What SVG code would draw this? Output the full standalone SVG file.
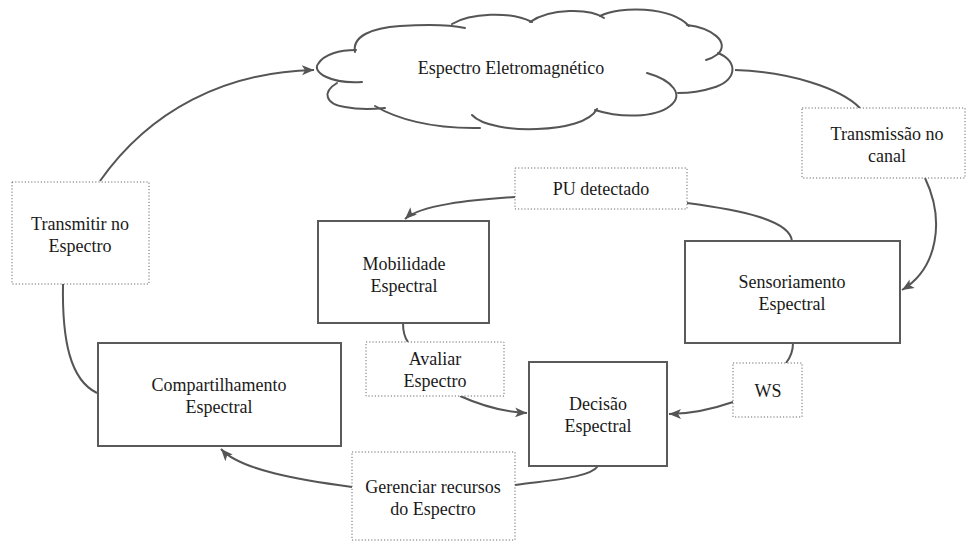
<svg xmlns="http://www.w3.org/2000/svg" width="967" height="542" viewBox="0 0 967 542">
<style>
.box{fill:#fff;stroke:#5a5a5a;stroke-width:2}
.lbl{fill:#fff;stroke:#6a6a6a;stroke-width:1;stroke-dasharray:1.2 2}
.c{fill:none;stroke:#555;stroke-width:2}
.cl{fill:none;stroke:#555;stroke-width:2;stroke-linecap:round}
.t{font-family:'Liberation Serif','Tinos','DejaVu Serif',serif;font-size:18px;fill:#1a1a1a;text-anchor:middle}
</style>
<defs>
<marker id="ah" markerUnits="userSpaceOnUse" markerWidth="14" markerHeight="12" refX="12" refY="5" orient="auto">
<path d="M0,0 L12,5 L0,10 L3,5 z" fill="#555"/>
</marker>
</defs>
<g id="cloud">
<path class="cl" d="M362,82 C330,84 312,72 318,64 C324,54 340,50 356,50"/>
<path class="cl" d="M355,52 C352,36 372,28 400,26 C430,24 452,25 465,28"/>
<path class="cl" d="M452,24 C470,13 510,11 532,22"/>
<path class="cl" d="M530,22 C550,8 590,8 604,18"/>
<path class="cl" d="M600,16 C620,6 670,6 689,26"/>
<path class="cl" d="M687,25 C712,28 730,42 718,54 C714,57 710,59 706,60"/>
<path class="cl" d="M718,53 C740,62 736,82 712,88 C700,92 690,93 678,93"/>
<path class="cl" d="M647,73 C672,80 685,95 670,106 C655,118 620,118 595,110"/>
<path class="cl" d="M472,115 C482,126 512,130 537,129 C565,128 590,122 597,109"/>
<path class="cl" d="M375,106 C395,118 430,129 480,128"/>
<path class="cl" d="M337,83 C322,92 325,104 345,107 C360,110 375,109 385,108"/>
<text class="t" x="511" y="74">Espectro Eletromagnético</text>
</g>
<g id="connectors">
<path class="c" d="M100,181 C150,110 225,72 314,70" marker-end="url(#ah)"/>
<path class="c" d="M735,70 C790,72 840,88 860,108"/>
<path class="c" d="M925,178 C945,220 938,268 902,290" marker-end="url(#ah)"/>
<path class="c" d="M792,241 C790,220 740,210 687,203"/>
<path class="c" d="M515,197 C470,200 420,205 405,219" marker-end="url(#ah)"/>
<path class="c" d="M403,323 C403,332 405,338 408,342"/>
<path class="c" d="M460,396 C480,405 505,412 527,413" marker-end="url(#ah)"/>
<path class="c" d="M793,343 C793,352 790,358 786,363"/>
<path class="c" d="M733,402 C710,410 690,414 669,414" marker-end="url(#ah)"/>
<path class="c" d="M598,466 C590,478 550,480 515,485"/>
<path class="c" d="M352,487 C300,480 240,470 221,449" marker-end="url(#ah)"/>
<path class="c" d="M63,284 C62,340 70,380 97,393"/>
</g>
<g id="transmitir">
<rect class="lbl" x="12" y="182" width="137" height="102"/>
<text class="t" x="80" y="230">Transmitir no</text>
<text class="t" x="80" y="252">Espectro</text>
</g>
<g id="transmissao">
<rect class="lbl" x="802" y="108" width="163" height="70"/>
<text class="t" x="887" y="140">Transmissão no</text>
<text class="t" x="887" y="162">canal</text>
</g>
<g id="sensoriamento">
<rect class="box" x="685" y="241" width="215" height="102"/>
<text class="t" x="792" y="288">Sensoriamento</text>
<text class="t" x="792" y="310">Espectral</text>
</g>
<g id="pu">
<rect class="lbl" x="515" y="168" width="172" height="41"/>
<text class="t" x="601" y="195">PU detectado</text>
</g>
<g id="mobilidade">
<rect class="box" x="318" y="221" width="171" height="102"/>
<text class="t" x="404" y="270">Mobilidade</text>
<text class="t" x="404" y="292">Espectral</text>
</g>
<g id="avaliar">
<rect class="lbl" x="366" y="342" width="138" height="54"/>
<text class="t" x="435" y="365">Avaliar</text>
<text class="t" x="435" y="387">Espectro</text>
</g>
<g id="decisao">
<rect class="box" x="529" y="362" width="138" height="104"/>
<text class="t" x="598" y="410">Decisão</text>
<text class="t" x="598" y="432">Espectral</text>
</g>
<g id="ws">
<rect class="lbl" x="733" y="363" width="69" height="54"/>
<text class="t" x="768" y="397">WS</text>
</g>
<g id="gerenciar">
<rect class="lbl" x="352" y="452" width="163" height="88"/>
<text class="t" x="433" y="493">Gerenciar recursos</text>
<text class="t" x="433" y="515">do Espectro</text>
</g>
<g id="compartilhamento">
<rect class="box" x="98" y="343" width="243" height="103"/>
<text class="t" x="219" y="391">Compartilhamento</text>
<text class="t" x="219" y="413">Espectral</text>
</g>
</svg>
